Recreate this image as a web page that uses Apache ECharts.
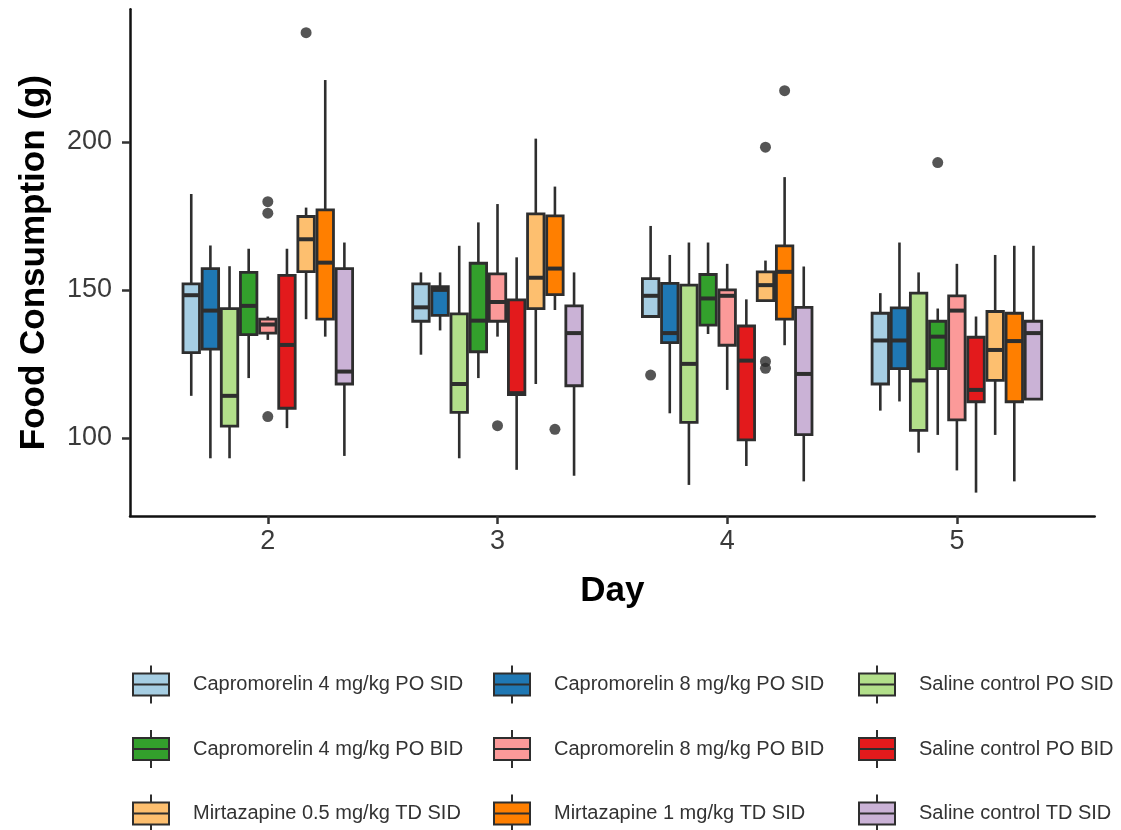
<!DOCTYPE html>
<html>
<head>
<meta charset="utf-8">
<script src="https://cdn.jsdelivr.net/npm/echarts@6/dist/echarts.min.js"></script>
<style>
  html, body { margin: 0; padding: 0; background: #fff; }
  #chart { width: 1121px; height: 830px; }
</style>
</head>
<body>
<div id="chart"></div>
<script>
// categories (days) and y tick labels
const days = [2, 3, 4, 5];
const yTicks = [100, 150, 200];

const groupNames = [
    'Capromorelin 4 mg/kg PO SID',
    'Capromorelin 8 mg/kg PO SID',
    'Saline control PO SID',
    'Capromorelin 4 mg/kg PO BID',
    'Capromorelin 8 mg/kg PO BID',
    'Saline control PO BID',
    'Mirtazapine 0.5 mg/kg TD SID',
    'Mirtazapine 1 mg/kg TD SID',
    'Saline control TD SID'
];
const groupColors = ['#A6CEE3', '#1F78B4', '#B2DF8A', '#33A02C', '#FB9A99', '#E31A1C', '#FDBF6F', '#FF7F00', '#CAB2D6'];

// [lower whisker, Q1, median, Q3, upper whisker] for day 2,3,4,5
const cap4Sid = [[114.2, 128.8, 148.2, 152.0, 182.4], [128.1, 139.4, 144.1, 152.0, 155.9], [141.0, 141.0, 148.0, 153.8, 171.6], [109.2, 118.2, 132.9, 142.1, 148.9]];
const cap8Sid = [[93.1, 130.0, 143.0, 157.2, 165.0], [136.3, 141.4, 150.0, 151.1, 155.9], [108.3, 132.2, 135.4, 152.2, 161.8], [112.3, 123.4, 132.9, 143.9, 166.0]];
const salPoSid = [[93.1, 104.0, 114.2, 143.7, 158.0], [93.1, 108.6, 118.2, 141.9, 164.9], [84.1, 105.2, 125.0, 151.6, 166.0], [95.0, 102.5, 119.4, 148.9, 155.9]];
const cap4Bid = [[120.2, 134.9, 144.6, 155.9, 163.9], [120.2, 129.1, 139.6, 159.0, 172.8], [135.1, 138.1, 147.1, 155.2, 166.0], [101.0, 123.4, 134.2, 139.4, 143.7]];
const cap8Bid = [[133.1, 135.4, 138.3, 140.1, 141.0], [134.2, 139.4, 145.9, 155.4, 179.0], [116.2, 131.3, 148.0, 150.0, 158.8], [89.0, 106.1, 143.0, 148.0, 158.8]];
const salPoBid = [[103.3, 110.0, 131.4, 154.9, 163.9], [89.2, 114.6, 115.1, 146.6, 161.0], [90.5, 99.3, 126.1, 137.8, 146.8], [81.5, 112.2, 116.2, 134.0, 141.0]];
const mirt05 = [[140.1, 156.2, 167.1, 174.8, 177.8], [118.2, 143.7, 154.1, 175.7, 201.1], [146.4, 146.4, 151.6, 156.1, 159.9], [101.0, 119.4, 129.7, 142.7, 161.8]];
const mirt1 = [[134.2, 140.1, 159.2, 177.0, 220.9], [143.2, 148.4, 157.2, 175.0, 184.9], [131.3, 140.1, 156.1, 164.9, 188.1], [85.3, 112.2, 132.7, 142.1, 164.9]];
const salTdSid = [[93.9, 118.2, 122.4, 157.2, 166.0], [87.2, 117.6, 135.4, 144.6, 155.9], [85.3, 101.1, 121.6, 144.1, 157.9], [113.1, 113.1, 135.4, 139.4, 164.9]];

const boxData = [cap4Sid, cap8Sid, salPoSid, cap4Bid, cap8Bid, salPoBid, mirt05, mirt1, salTdSid];

// outliers: [group index, day index, value]
const outlierPoints = [
    [4, 0, 179.8], [4, 0, 175.9], [4, 0, 107.2], [6, 0, 236.9],
    [4, 1, 104.1], [7, 1, 102.9],
    [0, 2, 121.2], [6, 2, 198.2], [6, 2, 125.8], [6, 2, 123.5], [7, 2, 217.3],
    [3, 3, 193.0]
];

const yMin = 73.6, yMax = 244.8;
const dodgeWidth = 0.75;              // whole group of boxes, in day units
const slot = dodgeWidth / groupNames.length;
const boxFrac = 0.86;                 // box width inside its slot

function dodgeX(day, k) {
    return day + (k - (groupNames.length - 1) / 2) * slot;
}

const legendIcon = 'path://M0 8H36V19H0Z M0 19H36V30H0Z M18 0V8 M18 30V38';
const edge = '#2e2e2e';

let myChart = echarts.init(document.getElementById('chart'));

function makeBoxRenderer(k) {
    return function (params, api) {
        const x = dodgeX(api.value(0), k);
        const lo = api.coord([x, api.value(1)]);
        const q1 = api.coord([x, api.value(2)]);
        const md = api.coord([x, api.value(3)]);
        const q3 = api.coord([x, api.value(4)]);
        const hi = api.coord([x, api.value(5)]);
        const half = api.size([slot * boxFrac, 0])[0] / 2;
        const lineStyle = { stroke: edge, lineWidth: 2.6 };
        return {
            type: 'group',
            children: [
                { type: 'line', shape: { x1: lo[0], y1: lo[1], x2: q1[0], y2: q1[1] }, style: lineStyle },
                { type: 'line', shape: { x1: q3[0], y1: q3[1], x2: hi[0], y2: hi[1] }, style: lineStyle },
                {
                    type: 'rect',
                    shape: { x: q1[0] - half, y: q3[1], width: half * 2, height: q1[1] - q3[1] },
                    style: { fill: groupColors[k], stroke: edge, lineWidth: 2.8 }
                },
                { type: 'line', shape: { x1: md[0] - half, y1: md[1], x2: md[0] + half, y2: md[1] }, style: { stroke: edge, lineWidth: 4 } }
            ]
        };
    };
}

let series = groupNames.map(function (name, k) {
    return {
        name: name,
        type: 'custom',
        renderItem: makeBoxRenderer(k),
        encode: { x: 0, y: [1, 2, 3, 4, 5] },
        itemStyle: { color: groupColors[k], borderColor: edge, borderWidth: 2 },
        data: boxData[k].map(function (v, i) { return [days[i]].concat(v); })
    };
});
series.push({
    name: 'outliers',
    type: 'scatter',
    symbolSize: 11,
    itemStyle: { color: '#2b2b2b' },
    data: outlierPoints.map(function (p) {
        return [dodgeX(days[p[1]], p[0]), p[2]];
    })
});

function makeLegend(idx, left) {
    return {
        orient: 'vertical',
        left: left,
        top: 664.5,
        height: 180,
        padding: 0,
        itemGap: 24.5,
        itemWidth: 36,
        itemHeight: 38,
        icon: legendIcon,
        selectedMode: false,
        data: idx.map(function (k) {
            return {
                name: groupNames[k],
                itemStyle: { color: groupColors[k], borderColor: edge, borderWidth: 2 }
            };
        }),
        textStyle: {
            fontFamily: "'Liberation Sans', Arial",
            fontSize: 20,
            color: '#333',
            padding: [0, 0, 0, 19]
        }
    };
}

let option = {
    animation: false,
    backgroundColor: '#fff',
    textStyle: { fontFamily: "'Liberation Sans', Arial" },
    grid: { left: 130, right: 26.3, top: 9.3, bottom: 314 },
    legend: [
        makeLegend([0, 3, 6], 132),
        makeLegend([1, 4, 7], 493),
        makeLegend([2, 5, 8], 858)
    ],
    xAxis: {
        type: 'value',
        min: 1.4,
        max: 5.6,
        axisLine: { show: true, lineStyle: { color: '#111', width: 2.5 } },
        axisTick: { show: true, length: 8, customValues: days, lineStyle: { color: '#333', width: 2.5 } },
        axisLabel: { fontSize: 27, color: '#3a3a3a', margin: 12, customValues: days },
        splitLine: { show: false },
        name: 'Day',
        nameLocation: 'middle',
        nameGap: 58,
        nameTextStyle: { fontSize: 35, fontWeight: 'bold', color: '#000' }
    },
    yAxis: {
        type: 'value',
        min: yMin,
        max: yMax,
        axisLine: { show: true, lineStyle: { color: '#111', width: 2.5 } },
        axisTick: { show: true, length: 8, customValues: yTicks, lineStyle: { color: '#333', width: 2.5 } },
        axisLabel: { fontSize: 27, color: '#3a3a3a', margin: 18, customValues: yTicks },
        splitLine: { show: false },
        name: 'Food Consumption (g)',
        nameLocation: 'middle',
        nameGap: 78,
        nameTextStyle: { fontSize: 35, fontWeight: 'bold', color: '#000' }
    },
    series: series
};

myChart.setOption(option);
</script>
</body>
</html>
